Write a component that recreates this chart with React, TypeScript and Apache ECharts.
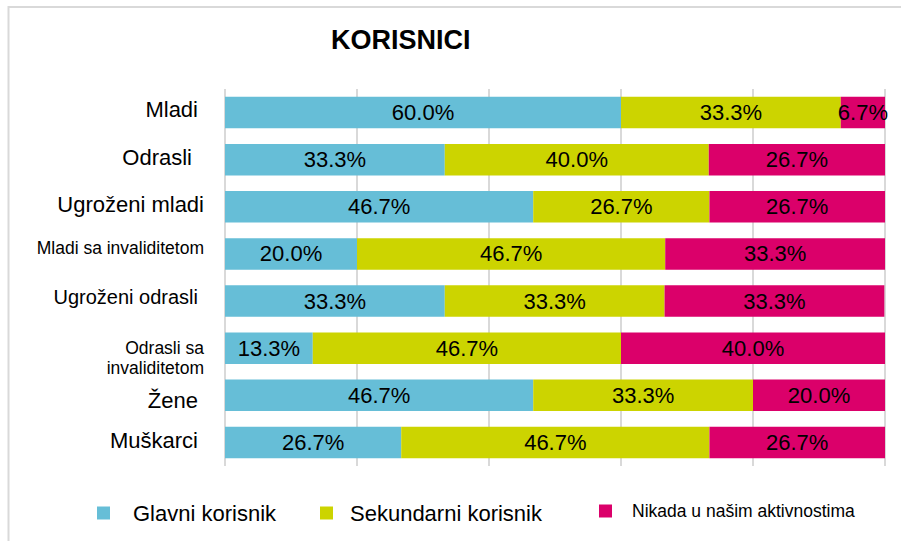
import React, { useEffect, useRef } from "react";
import * as echarts from "echarts";

const categories = [
  "Mladi",
  "Odrasli",
  "Ugroženi mladi",
  "Mladi sa invaliditetom",
  "Ugroženi odrasli",
  "Odrasli sa invaliditetom",
  "Žene",
  "Muškarci",
];

const seriesNames = ["Glavni korisnik", "Sekundarni korisnik", "Nikada u našim aktivnostima"];

const glavni = [60.0, 33.3, 46.7, 20.0, 33.3, 13.3, 46.7, 26.7];
const sekundarni = [33.3, 40.0, 26.7, 46.7, 33.3, 46.7, 33.3, 46.7];
const nikada = [6.7, 26.7, 26.7, 33.3, 33.3, 40.0, 20.0, 26.7];

const xTicks = [0, 20, 40, 60, 80, 100];

const colors = ["#66BED7", "#CCD400", "#DB006A"];
const FONT = "'Liberation Sans', Arial, sans-serif";

// per-category label styles (font size, padding) to mimic the reference layout
const catLabelStyles = [
  { fontSize: 22, padding: [0, 6, 6, 0] },
  { fontSize: 22, padding: [0, 12, 4, 0] },
  { fontSize: 22, padding: [0, 0, 4, 0] },
  { fontSize: 17.5, padding: [0, 0, 12, 0] },
  { fontSize: 20, padding: [0, 6, 8, 0] },
  { fontSize: 17.5, lineHeight: 20, padding: [20, 0, 0, 0] },
  { fontSize: 22, padding: [10, 6, 0, 0] },
  { fontSize: 22, padding: [0, 6, 4, 0] },
];

export default function App() {
  const ref = useRef<HTMLDivElement>(null);

  useEffect(() => {
    if (!ref.current) return;
    const chart = echarts.init(ref.current, null, { renderer: "svg" });

    const rich: Record<string, any> = {};
    catLabelStyles.forEach((s, i) => {
      rich["c" + i] = {
        fontFamily: FONT,
        color: "#000",
        align: "right",
        ...s,
      };
    });

    const dataSets = [glavni, sekundarni, nikada];

    const legendOffsets = [97, 320, 599];
    const legendPads = [18, 12, 15];
    const legendFont = [22, 22, 17.5];

    const option: any = {
      animation: false,
      backgroundColor: "#fff",
      title: {
        text: "KORISNICI",
        left: 331,
        top: 26,
        padding: 0,
        textStyle: { fontFamily: FONT, fontSize: 27, fontWeight: "bold", color: "#000" },
      },
      graphic: [
        {
          type: "rect",
          shape: { x: 8.5, y: 7, width: 1200, height: 1200 },
          style: { fill: "none", stroke: "#d9d9d9", lineWidth: 2 },
          silent: true,
        },
      ],
      legend: seriesNames.map((name, i) => ({
        data: [name],
        left: legendOffsets[i],
        top: 502,
        padding: 0,
        itemWidth: 13,
        itemHeight: 13,
        icon: "rect",
        textStyle: {
          fontFamily: FONT,
          fontSize: legendFont[i],
          color: "#000",
          padding: [0, 0, 0, legendPads[i]],
        },
      })),
      grid: { left: 225, right: 16, top: 89, bottom: 75, containLabel: false },
      xAxis: {
        type: "value",
        min: xTicks[0],
        max: xTicks[xTicks.length - 1],
        interval: xTicks[1] - xTicks[0],
        axisLabel: { show: false },
        axisLine: { show: false },
        axisTick: { show: false },
        splitLine: { show: true, lineStyle: { color: "#d9d9d9", width: 2 } },
      },
      yAxis: {
        type: "category",
        data: categories,
        inverse: true,
        axisLine: { show: false },
        axisTick: { show: false },
        axisLabel: {
          margin: 21,
          formatter: (value: string, index: number) => {
            const text = value === "Odrasli sa invaliditetom" ? "Odrasli sa\ninvaliditetom" : value;
            return "{c" + index + "|" + text + "}";
          },
          rich,
        },
      },
      series: seriesNames.map((name, i) => ({
        name,
        type: "bar",
        stack: "total",
        barCategoryGap: "33%",
        itemStyle: { color: colors[i] },
        label: {
          show: true,
          position: "inside",
          color: "#000",
          fontFamily: FONT,
          fontSize: 22,
          formatter: (p: any) => Number(p.value).toFixed(1) + "%",
        },
        data: dataSets[i],
      })),
    };

    chart.setOption(option);
    return () => chart.dispose();
  }, []);

  return (
    <div
      ref={ref}
      style={{ position: "fixed", left: 0, top: 0, width: 901, height: 541, background: "#fff" }}
    />
  );
}
